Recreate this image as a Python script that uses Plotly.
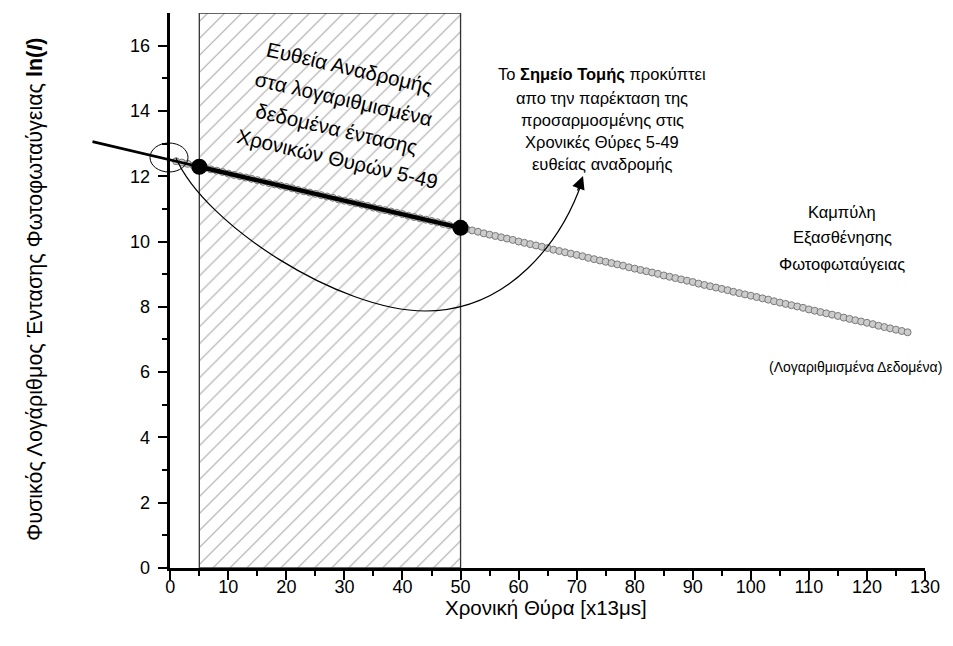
import plotly.graph_objects as go

# ---------------- data ----------------
gate = list(range(1, 128))
ln_I = [12.46, 12.42, 12.38, 12.33,
        12.29, 12.25, 12.21, 12.17, 12.13, 12.08, 12.04, 12.00, 11.96, 11.92,
        11.88, 11.83, 11.79, 11.75, 11.71, 11.67, 11.63, 11.58, 11.54, 11.50,
        11.46, 11.42, 11.38, 11.34, 11.29, 11.25, 11.21, 11.17, 11.13, 11.09,
        11.04, 11.00, 10.96, 10.92, 10.88, 10.84, 10.79, 10.75, 10.71, 10.67,
        10.63, 10.59, 10.54, 10.50, 10.46, 10.42, 10.38, 10.34, 10.30, 10.25,
        10.21, 10.17, 10.13, 10.09, 10.05, 10.00, 9.96, 9.92, 9.88, 9.84,
        9.80, 9.75, 9.71, 9.67, 9.63, 9.59, 9.55, 9.50, 9.46, 9.42,
        9.38, 9.34, 9.30, 9.26, 9.21, 9.17, 9.13, 9.09, 9.05, 9.01,
        8.96, 8.92, 8.88, 8.84, 8.80, 8.76, 8.71, 8.67, 8.63, 8.59,
        8.55, 8.51, 8.46, 8.42, 8.38, 8.34, 8.30, 8.26, 8.22, 8.17,
        8.13, 8.09, 8.05, 8.01, 7.97, 7.92, 7.88, 7.84, 7.80, 7.76,
        7.72, 7.67, 7.63, 7.59, 7.55, 7.51, 7.47, 7.42, 7.38, 7.34,
        7.30, 7.26, 7.22]

fit_ext_x = [-13.4, 5]
fit_ext_y = [13.06, 12.29]
fit_x = [5, 50]
fit_y = [12.29, 10.42]
end_x = [5, 50]
end_y = [12.29, 10.42]
window = [5, 50]
window_top = [17]

x_ticks = [0, 10, 20, 30, 40, 50, 60, 70, 80, 90, 100, 110, 120, 130]
x_minor = [5, 15, 25, 35, 45, 55, 65, 75, 85, 95, 105, 115, 125]
y_ticks = [0, 2, 4, 6, 8, 10, 12, 14, 16]
y_minor = [1, 3, 5, 7, 9, 11, 13, 15]

# ---------------- geometry helpers ----------------
# The page body adds an 8px offset; figure is sized to fit inside the window.
# Plot area on screen: x 89..925, y 13..568
OFF = 8
W, H = 953 - 2 * OFF, 646 - 2 * OFF
PX0, PX1, PY0, PY1 = 89, 925, 13, 568
L, R, T, B = PX0 - OFF, W - (PX1 - OFF), PY0 - OFF, H - (PY1 - OFF)
XMIN, XMAX = -14, 130
YMIN, YMAX = 0, 17
FONT = "Liberation Sans, Arial, sans-serif"


def X(px):
    return XMIN + (px - PX0) / (PX1 - PX0) * (XMAX - XMIN)


def Y(py):
    return YMIN + (PY1 - py) / (PY1 - PY0) * (YMAX - YMIN)


def ann(text, px, py, size, angle=0):
    return dict(xref="paper", yref="paper",
                x=(px - PX0) / (PX1 - PX0), y=(PY1 - py) / (PY1 - PY0),
                text=text, showarrow=False, textangle=angle,
                xanchor="center", yanchor="middle",
                font=dict(family=FONT, size=size, color="black"))


fig = go.Figure()

# hatched window (gates 5-49)
fig.add_trace(go.Bar(
    x=[(window[0] + window[1]) / 2], y=window_top, width=[window[1] - window[0]],
    xaxis="x2", yaxis="y",
    marker=dict(color="white", line=dict(color="#333333", width=1.3),
                pattern=dict(shape="/", size=12, solidity=0.09,
                             fgcolor="#505050", bgcolor="white")),
    showlegend=False, hoverinfo="skip"))

# logarithmic data
fig.add_trace(go.Scatter(
    x=gate, y=ln_I, mode="markers", xaxis="x2", yaxis="y",
    marker=dict(size=7, color="#cccccc", line=dict(color="#7a7a7a", width=1)),
    showlegend=False))

# regression line & extrapolation
fig.add_trace(go.Scatter(x=fit_ext_x, y=fit_ext_y, mode="lines", xaxis="x2", yaxis="y",
                         line=dict(color="black", width=2.6), showlegend=False))
fig.add_trace(go.Scatter(x=fit_x, y=fit_y, mode="lines", xaxis="x2", yaxis="y",
                         line=dict(color="black", width=4.5), showlegend=False))
fig.add_trace(go.Scatter(x=end_x, y=end_y, mode="markers", xaxis="x2", yaxis="y",
                         marker=dict(size=16, color="black"), showlegend=False))

# dummy on the visible axis pair
fig.add_trace(go.Scatter(x=[0], y=[0], mode="markers", xaxis="x", yaxis="y",
                         marker=dict(opacity=0), showlegend=False, hoverinfo="skip"))

# ellipse + curved arrow
arrow_path = (f"M {X(176)},{Y(158)} "
              f"C {X(205)},{Y(225)} {X(340)},{Y(311)} {X(425)},{Y(311)} "
              f"C {X(510)},{Y(311)} {X(562)},{Y(240)} {X(582)},{Y(182)}")
shapes = [
    dict(type="circle", xref="x2", yref="y", x0=X(150), x1=X(188), y0=Y(172), y1=Y(143),
         line=dict(color="black", width=1)),
    dict(type="path", xref="x2", yref="y", path=arrow_path,
         line=dict(color="black", width=1.2)),
]

annotations = [
    dict(xref="x2", yref="y", x=X(583), y=Y(176), ax=-6, ay=16, text="",
         showarrow=True, arrowhead=2, arrowsize=2.0, arrowwidth=1.3,
         arrowcolor="black", standoff=0),
    ann("Ευθεία Αναδρομής", 349, 67, 20.5, 13),
    ann("στα λογαριθμισμένα", 343, 99, 20.5, 13),
    ann("δεδομένα έντασης", 336, 129, 20.5, 13),
    ann("Χρονικών Θυρών 5-49", 337, 158, 20.5, 13),
    ann("Το <b>Σημείο Τομής</b> προκύπτει", 602, 75, 16.5),
    ann("απο την παρέκταση της", 602, 98, 16.5),
    ann("προσαρμοσμένης στις", 602, 120, 16.5),
    ann("Χρονικές Θύρες 5-49", 602, 142, 16.5),
    ann("ευθείας αναδρομής", 602, 164, 16.5),
    ann("Καμπύλη", 842, 212, 16.5),
    ann("Εξασθένησης", 842, 238, 16.5),
    ann("Φωτοφωταύγειας", 842, 264, 16.5),
    ann("(Λογαριθμισμένα Δεδομένα)", 855, 367, 14),
    ann("Χρονική Θύρα [x13μs]", 546, 607, 20.5),
    ann("Φυσικός Λογάριθμος Έντασης Φωτοφωταύγειας <b>ln(<i>I</i>)</b>", 35, 290, 21.5, -90),
]

axis_common = dict(showgrid=False, zeroline=False, showline=True, linecolor="black",
                   linewidth=2.5, ticks="outside", tickcolor="black", tickwidth=2,
                   tickfont=dict(family=FONT, size=18, color="black"))

fig.update_layout(
    width=W, height=H,
    margin=dict(l=L, r=R, t=T, b=B, autoexpand=False),
    paper_bgcolor="white", plot_bgcolor="rgba(0,0,0,0)",
    showlegend=False,
    xaxis=dict(domain=[(0 - XMIN) / (XMAX - XMIN), 1], range=[0, 130], anchor="y",
               tickmode="array", tickvals=x_ticks, ticklen=9, ticklabelstandoff=-8,
               minor=dict(tickmode="array", tickvals=x_minor, ticklen=5, tickwidth=2,
                          ticks="outside", tickcolor="black"),
               **axis_common),
    xaxis2=dict(domain=[0, 1], range=[XMIN, XMAX], anchor="y", visible=False,
                showgrid=False, zeroline=False),
    yaxis=dict(domain=[0, 1], range=[YMIN, YMAX], anchor="x",
               tickmode="array", tickvals=y_ticks, ticklen=10, ticklabelstandoff=4,
               minor=dict(tickmode="array", tickvals=y_minor, ticklen=6, tickwidth=2,
                          ticks="outside", tickcolor="black"),
               **axis_common),
    shapes=shapes,
    annotations=annotations,
)

fig.write_html("out.html")
